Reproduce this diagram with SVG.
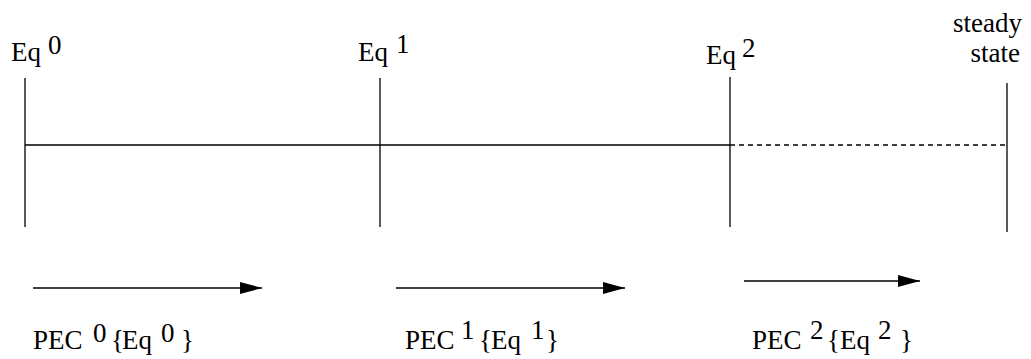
<svg xmlns="http://www.w3.org/2000/svg" width="1031" height="359" viewBox="0 0 1031 359">
<style>
.t{font-family:'Liberation Serif','Times New Roman','Liberation Sans',sans-serif;font-size:27px;fill:#000}
.ln{stroke:#000;stroke-width:1.3;fill:none}
.dash{stroke:#000;stroke-width:1.3;stroke-dasharray:5,4;fill:none}
</style>
<defs>
<marker id="ah" markerUnits="userSpaceOnUse" markerWidth="24" markerHeight="12" refX="22" refY="6" orient="auto">
<path d="M0,0 L22,6 L0,12 Z" fill="#000"/>
</marker>
</defs>
<rect width="1031" height="359" fill="#fff"/>
<g id="connectors">
<line class="ln" x1="25" y1="145" x2="730" y2="145"/>
<line class="dash" x1="730" y1="145" x2="1007" y2="145"/>
<line class="ln" x1="33" y1="288" x2="262" y2="288" marker-end="url(#ah)"/>
<line class="ln" x1="396" y1="288" x2="625" y2="288" marker-end="url(#ah)"/>
<line class="ln" x1="744" y1="281" x2="920" y2="281" marker-end="url(#ah)"/>
</g>
<g id="eq0">
<line class="ln" x1="25" y1="78" x2="25" y2="227"/>
<text class="t" x="11" y="61">Eq<tspan x="48" y="54">0</tspan></text>
</g>
<g id="eq1">
<line class="ln" x1="380" y1="78" x2="380" y2="227"/>
<text class="t" x="358" y="61">Eq<tspan x="396" y="53">1</tspan></text>
</g>
<g id="eq2">
<line class="ln" x1="730" y1="77" x2="730" y2="227"/>
<text class="t" x="706" y="64">Eq<tspan x="742" y="57">2</tspan></text>
</g>
<g id="steady">
<line class="ln" x1="1007" y1="83" x2="1007" y2="232"/>
<text class="t" x="1022" y="32" text-anchor="end">steady</text>
<text class="t" x="1020" y="62" text-anchor="end">state</text>
</g>
<g id="pec0">
<text class="t" x="33" y="349">PEC<tspan x="93" y="342">0</tspan><tspan x="111" y="349">{</tspan><tspan x="122" y="349">Eq</tspan><tspan x="161" y="342">0</tspan><tspan x="181" y="349">}</tspan></text>
</g>
<g id="pec1">
<text class="t" x="405" y="349">PEC<tspan x="461" y="339">1</tspan><tspan x="479" y="349">{</tspan><tspan x="491" y="349">Eq</tspan><tspan x="531" y="339">1</tspan><tspan x="546" y="349">}</tspan></text>
</g>
<g id="pec2">
<text class="t" x="752" y="349">PEC<tspan x="810" y="339">2</tspan><tspan x="827" y="349">{</tspan><tspan x="840" y="349">Eq</tspan><tspan x="878" y="339">2</tspan><tspan x="900" y="349">}</tspan></text>
</g>
</svg>
